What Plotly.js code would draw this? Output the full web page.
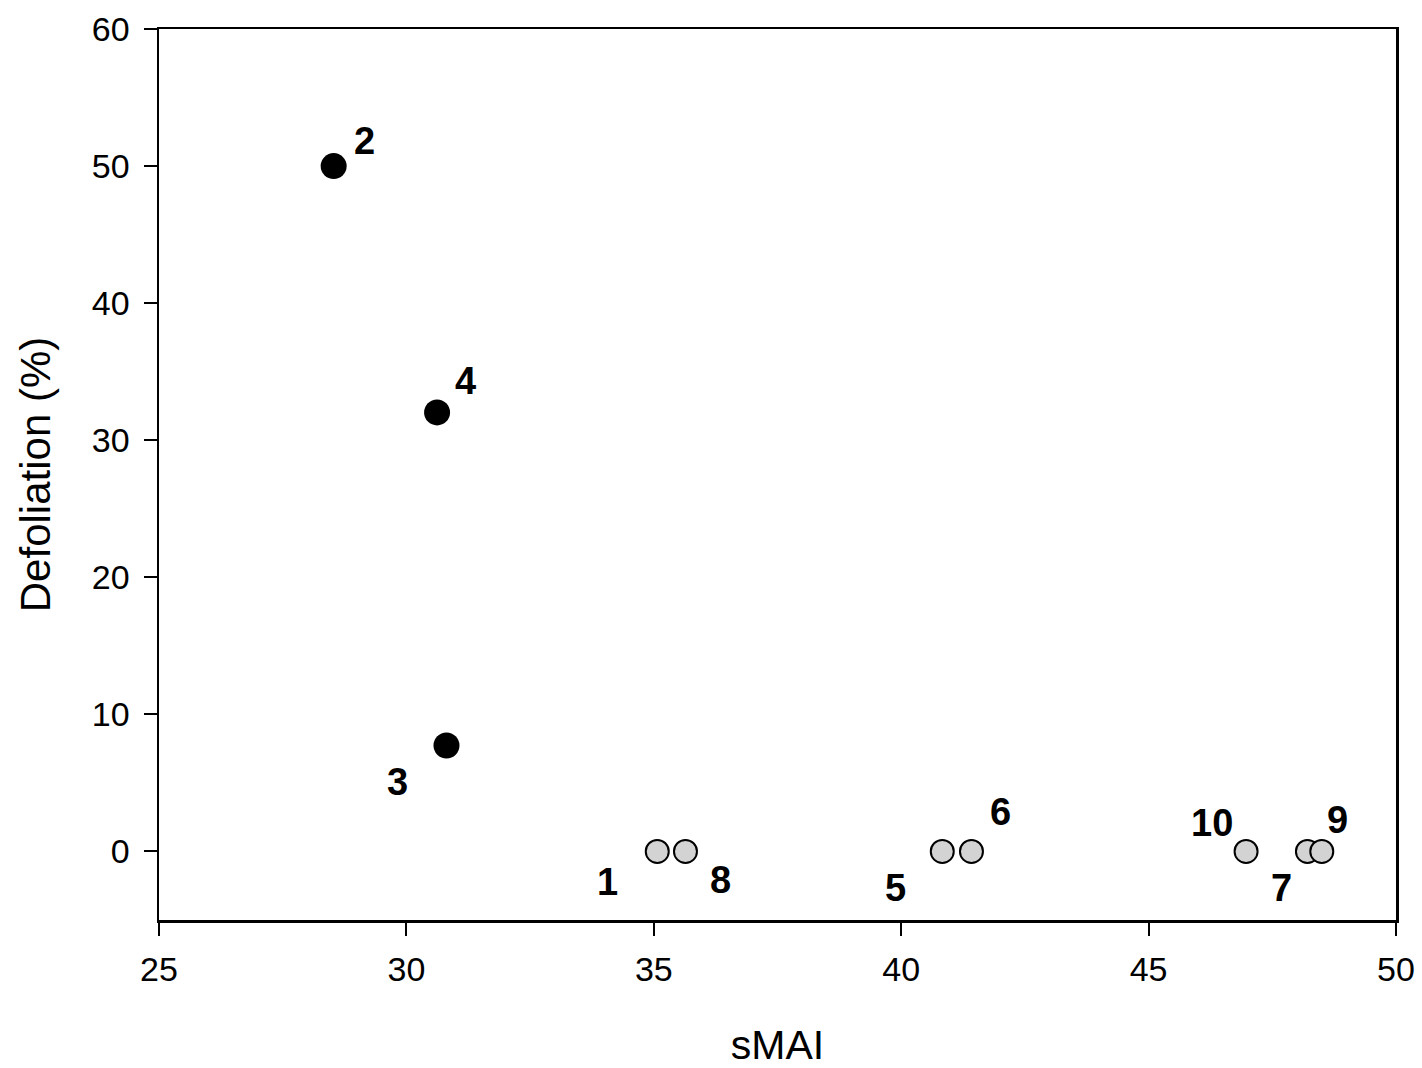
<!DOCTYPE html>
<html>
<head>
<meta charset="utf-8">
<script src="https://cdn.plot.ly/plotly-3.0.1.min.js"></script>
<style>
  html, body { margin: 0; padding: 0; background: #fff; }
  #chart { width: 1422px; height: 1068px; }
</style>
</head>
<body>
<div id="chart"></div>
<script>
// site numbers and their values
const siteIds = ["1", "2", "3", "4", "5", "6", "7", "8", "9", "10"];
const smai = [35.07, 28.53, 30.81, 30.62, 40.83, 41.42, 48.21, 35.64, 48.50, 46.97];
const defoliation = [0, 50.0, 7.73, 32.03, 0, 0, 0, 0, 0, 0];
const defoliated = [false, true, true, true, false, false, false, false, false, false];

// where each number label sits relative to its point, in pixels (x right, y up)
const labelShift = {
  "1": [-50, -31], "2": [31, 25], "3": [-49, -36], "4": [28, 31], "5": [-47, -37],
  "6": [29, 39], "7": [-26, -37], "8": [35, -29], "9": [16, 31], "10": [-34, 28]
};

let blackX = [], blackY = [], greyX = [], greyY = [];
for (i = 0; i < siteIds.length; i++) {
  if (defoliated[i]) {
    blackX.push(smai[i]);
    blackY.push(defoliation[i]);
  } else {
    greyX.push(smai[i]);
    greyY.push(defoliation[i]);
  }
}

const data = [
  {
    x: greyX, y: greyY,
    mode: "markers", type: "scatter",
    marker: { size: 23, color: "#d3d3d3", line: { color: "#000", width: 2 } },
    hoverinfo: "skip"
  },
  {
    x: blackX, y: blackY,
    mode: "markers", type: "scatter",
    marker: { size: 26, color: "#000", line: { color: "#000", width: 0 } },
    hoverinfo: "skip"
  }
];

const fam = "Liberation Sans, Arial, sans-serif";

let annotations = [];
for (i = 0; i < siteIds.length; i++) {
  annotations.push({
    x: smai[i], y: defoliation[i], xref: "x", yref: "y",
    text: siteIds[i], showarrow: false,
    xshift: labelShift[siteIds[i]][0], yshift: labelShift[siteIds[i]][1],
    font: { family: fam, size: 38, color: "#000", weight: "bold" }
  });
}

const tickFont = { family: fam, size: 34, color: "#000" };

const layout = {
  width: 1422, height: 1068,
  margin: { l: 159, r: 26, t: 29, b: 148 },
  paper_bgcolor: "#fff", plot_bgcolor: "#fff",
  showlegend: false,
  font: tickFont,
  annotations: annotations,
  xaxis: {
    range: [25, 50], tickvals: [25, 30, 35, 40, 45, 50],
    showgrid: false, zeroline: false,
    showline: true, mirror: true, linecolor: "#000", linewidth: 2.5,
    ticks: "outside", ticklen: 13, tickwidth: 2, tickcolor: "#000",
    tickfont: tickFont, ticklabelstandoff: 5,
    title: { text: "sMAI", font: { family: fam, size: 41, color: "#000" }, standoff: 44 }
  },
  yaxis: {
    range: [-5, 60], tickvals: [0, 10, 20, 30, 40, 50, 60],
    showgrid: false, zeroline: false,
    showline: true, mirror: true, linecolor: "#000", linewidth: 2.5,
    ticks: "outside", ticklen: 13, tickwidth: 2, tickcolor: "#000",
    tickfont: tickFont, ticklabelstandoff: 7,
    title: { text: "Defoliation (%)", font: { family: fam, size: 42, color: "#000" }, standoff: 28 }
  }
};

Plotly.newPlot("chart", data, layout, { staticPlot: true });
</script>
</body>
</html>
